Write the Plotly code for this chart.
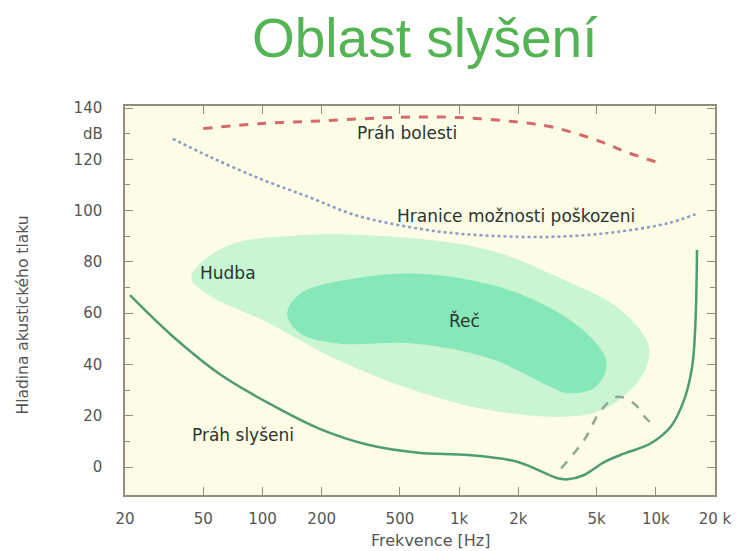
import plotly.graph_objects as go
import math

# ---- data ----
pain_f = [50, 100, 200, 500, 1000, 2000, 3000, 5000, 7000, 10500]
pain_db = [132, 134, 135, 136.4, 136.3, 134.5, 132.5, 127.5, 123, 118.5]

damage_f = [35, 54, 96, 172, 298, 620, 1000, 2000, 3560, 6360, 11400, 15900]
damage_db = [128, 121, 112.6, 105.3, 98.2, 93, 91, 89.8, 90, 91.7, 95, 98.6]

thr_f = [21.2, 33.8, 60, 108, 194, 348, 620, 1112, 1990, 3170, 3560, 4320, 5490,
         6930, 9400, 11900, 13900, 15300, 15900, 16200]
thr_db = [67, 52, 36.5, 24.8, 15, 8.6, 5.6, 4.7, 2, -4.4, -4.8, -3.1, 2,
          5.3, 9.2, 15.7, 26, 39, 56, 84.6]

loss_f = [3300, 4320, 5250, 6360, 7740, 9100, 10100]
loss_db = [-0.5, 10.5, 22, 27.4, 24.8, 18.3, 16.4]

music_f = [43.5, 64.7, 156, 470, 1420, 3430, 6640, 9260, 8240, 5330, 3430,
           1420, 586, 242, 100, 51.9]
music_db = [74.2, 85.9, 90.4, 89.8, 84.6, 72.9, 61.2, 46.4, 33.9, 22.2, 19.6,
            22.2, 30, 41.7, 57.3, 67.7]

speech_f = [133.5, 156, 302, 586, 1138, 2210, 4270, 5610, 4940, 3560, 2920,
            1420, 586, 242, 156]
speech_db = [59.6, 67.7, 73.7, 75.5, 72.9, 66.4, 53.4, 40.9, 31.2, 28.8, 31.3,
             42.5, 48.2, 48.2, 52.1]

x_ticks = [20, 50, 100, 200, 500, 1000, 2000, 5000, 10000, 20000]
x_labels = ["20", "50", "100", "200", "500", "1k", "2k", "5k", "10k", "20 k"]
y_ticks = [0, 20, 40, 60, 80, 100, 120, 140]
y_minor = [10, 30, 50, 70, 90, 110, 130]

labels = [
    ("Práh bolesti", 546, 130.2),
    ("Hranice možnosti poškozeni", 1944, 97.8),
    ("Hudba", 67, 75.8),
    ("Řeč", 1061, 57.3),
    ("Práh slyšeni", 80, 12.5),
]

# page offset: the html body adds 8 px on the left and top
OFF = 8
PL, PR, PT, PB = 125, 718, 106, 495   # plot area in page pixels
PW, PH = PR - PL, PB - PT

fig = go.Figure()

fig.add_trace(go.Scatter(x=music_f + music_f[:1], y=music_db + music_db[:1],
                         mode="lines", fill="toself", fillcolor="#c9f5d2",
                         line=dict(width=0, shape="spline", smoothing=1.0, color="#c9f5d2"),
                         hoverinfo="skip"))
fig.add_trace(go.Scatter(x=speech_f + speech_f[:1], y=speech_db + speech_db[:1],
                         mode="lines", fill="toself", fillcolor="#86e8b8",
                         line=dict(width=0, shape="spline", smoothing=1.0, color="#86e8b8"),
                         hoverinfo="skip"))
fig.add_trace(go.Scatter(x=pain_f, y=pain_db, mode="lines",
                         line=dict(color="#d46a6a", width=3, dash="dash", shape="spline")))
fig.add_trace(go.Scatter(x=damage_f, y=damage_db, mode="lines",
                         line=dict(color="#8c9cc4", width=2.5, dash="dot", shape="spline")))
fig.add_trace(go.Scatter(x=thr_f, y=thr_db, mode="lines",
                         line=dict(color="#4f9c74", width=2.5, shape="spline")))
fig.add_trace(go.Scatter(x=loss_f, y=loss_db, mode="lines",
                         line=dict(color="#8aaa92", width=2.5, dash="dash", shape="spline")))

for text, fx, fy in labels:
    fig.add_annotation(x=math.log10(fx), y=fy, text=text, showarrow=False,
                       font=dict(family="DejaVu Sans", size=17, color="#2b342d"))

fig.add_annotation(xref="paper", x=0, y=130, text="dB", showarrow=False,
                   xanchor="right", xshift=-20,
                   font=dict(family="DejaVu Sans", size=15, color="#555555"))

fig.add_annotation(xref="paper", yref="paper", x=(427 - PL) / PW, y=1 + (PT - 38) / PH,
                   text="Oblast slyšení", showarrow=False, yanchor="middle",
                   font=dict(family="Liberation Sans", size=55, color="#52b452"))
fig.add_annotation(xref="paper", yref="paper", x=(432 - PL) / PW, y=-(540 - PB) / PH,
                   text="Frekvence [Hz]", showarrow=False, yanchor="middle",
                   font=dict(family="DejaVu Sans", size=16, color="#555555"))
fig.add_annotation(xref="paper", yref="paper", x=-(PL - 22) / PW, y=(PB - 315) / PH,
                   text="Hladina akustického tlaku", showarrow=False, textangle=-90,
                   xanchor="center", yanchor="middle",
                   font=dict(family="DejaVu Sans", size=15.5, color="#555555"))

axis_col = "#8f8f7a"
fig.update_xaxes(type="log", range=[math.log10(20), math.log10(20000)],
                 tickvals=x_ticks, ticktext=x_labels,
                 ticks="inside", ticklen=8, tickcolor=axis_col, tickwidth=1,
                 showline=True, linecolor=axis_col, linewidth=1.5, mirror="ticks",
                 showgrid=False, zeroline=False, ticklabelstandoff=9,
                 tickfont=dict(family="DejaVu Sans", size=15, color="#555555"))
fig.update_yaxes(range=[-10.9, 140.8], tickvals=y_ticks,
                 ticks="inside", ticklen=8, tickcolor=axis_col, tickwidth=1,
                 minor=dict(tickvals=y_minor, ticks="inside", ticklen=5, tickcolor=axis_col),
                 showline=True, linecolor=axis_col, linewidth=1.5, mirror="ticks",
                 showgrid=False, zeroline=False, ticklabelstandoff=18,
                 tickfont=dict(family="DejaVu Sans", size=15, color="#555555"))

fig.update_layout(width=744 - OFF, height=551 - OFF, showlegend=False,
                  margin=dict(l=PL - OFF, r=744 - PR, t=PT - OFF, b=551 - PB),
                  paper_bgcolor="white", plot_bgcolor="#fdfce7")

fig.write_html("out.html")
